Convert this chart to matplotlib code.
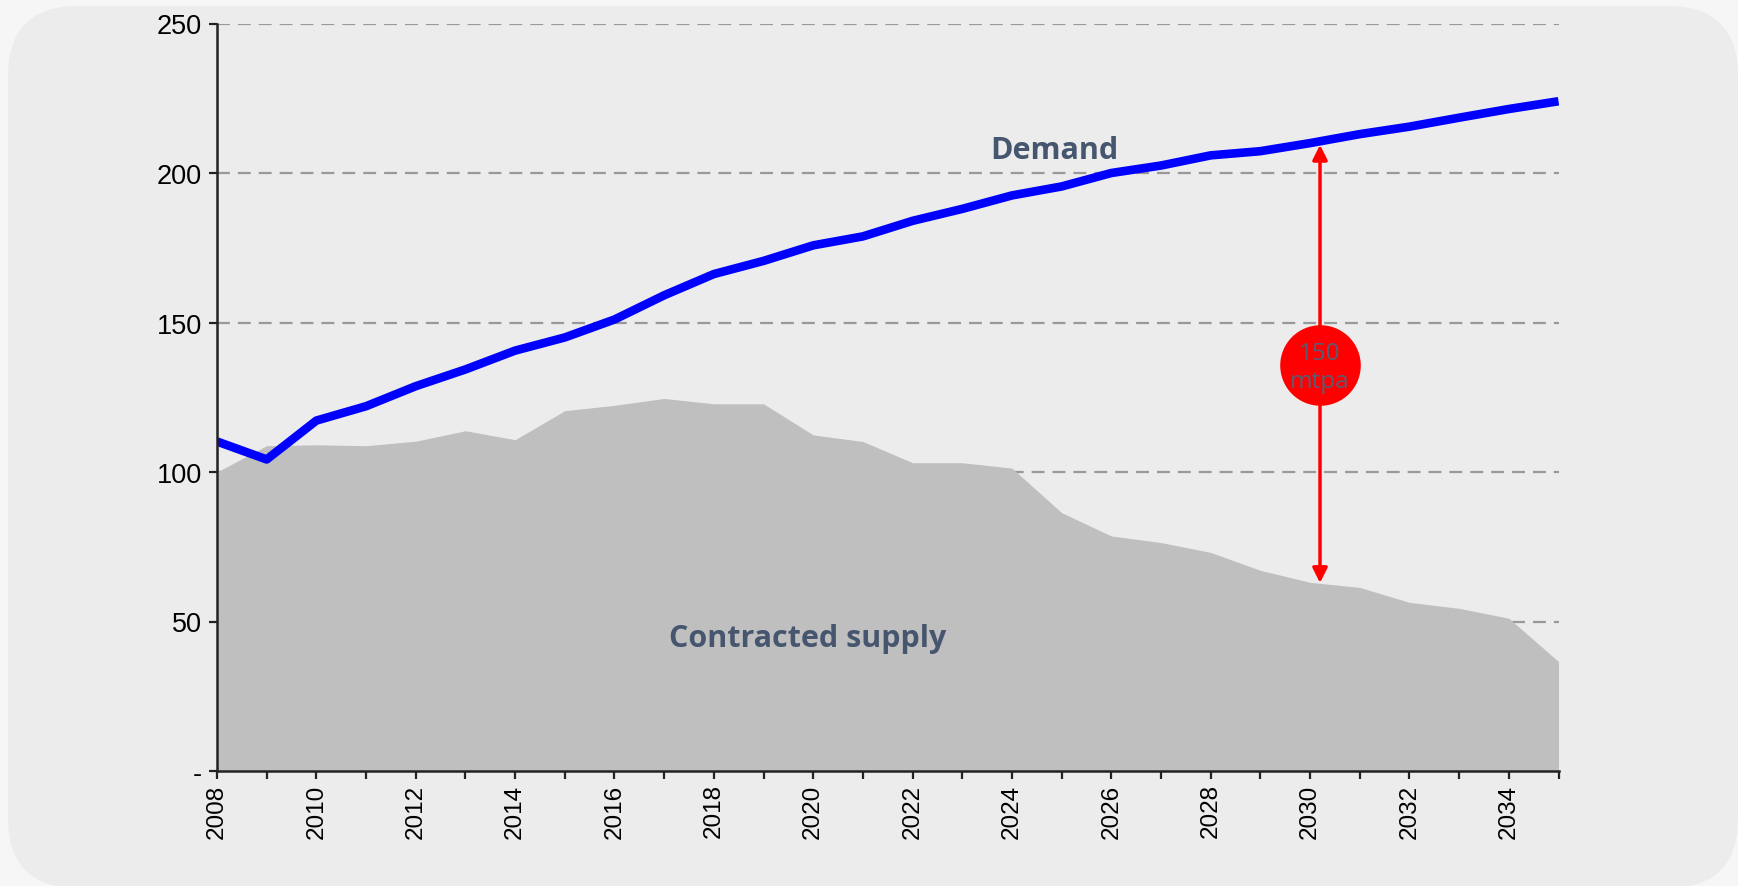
import numpy as np
import matplotlib
matplotlib.use("Agg")
import matplotlib.pyplot as plt
from matplotlib.patches import FancyBboxPatch

years = np.arange(2008, 2036)
demand = [110.2, 104.2, 117.2, 122.0, 128.7, 134.3, 140.6, 145.0, 151.0, 159.1,
          166.2, 170.6, 175.8, 178.8, 184.0, 188.0, 192.5, 195.5, 200.0, 202.5,
          205.9, 207.3, 210.0, 213.0, 215.5, 218.5, 221.4, 224.0]
supply = [100.0, 108.8, 109.1, 108.8, 110.3, 113.8, 110.8, 120.5, 122.3, 124.6,
          122.8, 122.8, 112.4, 110.2, 103.1, 103.1, 101.3, 86.4, 78.6, 76.4,
          73.1, 67.1, 63.1, 61.4, 56.4, 54.4, 51.1, 36.6]
y_ticks = [0, 50, 100, 150, 200, 250]
y_ticklabels = ["-", "50", "100", "150", "200", "250"]
x_ticks = np.arange(2008, 2036, 2)

gap_year = 2030.2
gap_top, gap_bottom = 209.4, 62.9
gap_lines = ["150", "mtpa"]
label_col = "#46566e"

W, H = 1738, 887
fig = plt.figure(figsize=(W / 100, H / 100), dpi=100)
fig.patch.set_facecolor("#f6f6f6")

# rounded background panel, drawn in pixel units
bg = fig.add_axes([0, 0, 1, 1], zorder=-10)
bg.set_xlim(0, W)
bg.set_ylim(0, H)
bg.axis("off")
bg.add_patch(FancyBboxPatch((8, -2), W - 8, H - 7 + 2,
                            boxstyle="round,pad=0,rounding_size=70",
                            facecolor="#ececec", edgecolor="none"))

ax = fig.add_axes([217 / W, 1 - 772 / H, (1558.5 - 217) / W, (772 - 24.5) / H])
ax.set_facecolor("none")

ax.fill_between(years, 0, supply, color="#bfbfbf", linewidth=0, zorder=2)
ax.plot(years, demand, color="#0000ff", linewidth=6.2, solid_capstyle="butt", zorder=4)

for yv in y_ticks[1:]:
    ax.axhline(yv, color="#999999", linewidth=1.6, linestyle=(0, (5.8, 3.6)), zorder=1)

ax.set_xlim(2008, 2035)
ax.set_ylim(0, 250)
ax.set_yticks(y_ticks)
ax.set_yticklabels(y_ticklabels)
ax.set_xticks(x_ticks)
ax.set_xticklabels([str(x) for x in x_ticks], rotation=90)
ax.set_xticks(np.arange(2009, 2036, 2), minor=True)
ax.tick_params(axis="both", which="both", direction="out", length=5.5, width=1.6,
               color="#222222", labelcolor="black")
ax.tick_params(axis="y", labelsize=19.5, pad=5.5)
ax.tick_params(axis="x", labelsize=17.5, pad=3.5)
for lab in ax.get_xticklabels() + ax.get_yticklabels():
    lab.set_family("Liberation Sans")
for s in ["top", "right"]:
    ax.spines[s].set_visible(False)
for s in ["left", "bottom"]:
    ax.spines[s].set_linewidth(1.8)
    ax.spines[s].set_color("#222222")
    ax.spines[s].set_zorder(5)

# gap arrow and bubble
ax.annotate("", xy=(gap_year, gap_top), xytext=(gap_year, gap_bottom),
            arrowprops=dict(arrowstyle="<|-|>", color="#ff0000", lw=2.5,
                            mutation_scale=22, shrinkA=0, shrinkB=0), zorder=6)
ax.plot([gap_year], [135.8], marker="o", markersize=58, color="#ff0000",
        markeredgewidth=0, zorder=7)
ax.text(gap_year, 137.8, gap_lines[0], ha="center", va="baseline", fontsize=17.5,
        color="#585c74", family="Open Sans", zorder=8)
ax.text(gap_year, 128.3, gap_lines[1], ha="center", va="baseline", fontsize=17.5,
        color="#585c74", family="Open Sans", zorder=8)

ax.text(2024.85, 204.9, "Demand", ha="center", va="baseline", fontsize=22,
        fontweight="bold", color=label_col, family="Open Sans", zorder=8)
ax.text(2019.88, 41.9, "Contracted supply", ha="center", va="baseline", fontsize=22,
        fontweight="bold", color=label_col, family="Open Sans", zorder=8)

fig.savefig("out.png", dpi=100)
